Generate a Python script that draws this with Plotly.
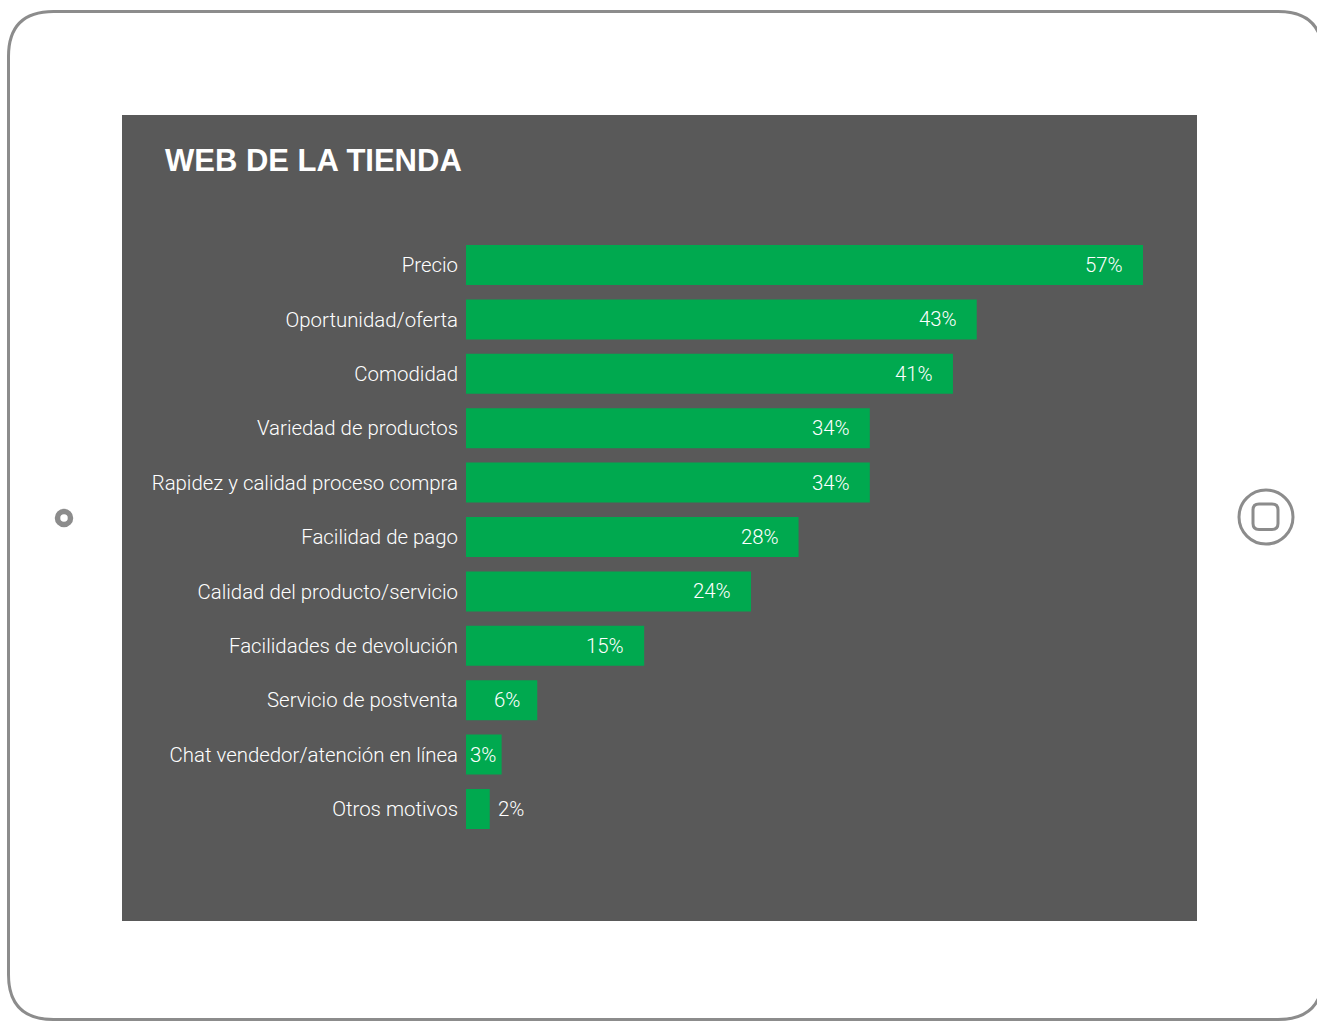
import plotly.graph_objects as go

# Survey results: reasons for buying on the store website (% of respondents)
categories = [
    "Precio",
    "Oportunidad/oferta",
    "Comodidad",
    "Variedad de productos",
    "Rapidez y calidad proceso compra",
    "Facilidad de pago",
    "Calidad del producto/servicio",
    "Facilidades de devolución",
    "Servicio de postventa",
    "Chat vendedor/atención en línea",
    "Otros motivos",
]
values = [57, 43, 41, 34, 34, 28, 24, 15, 6, 3, 2]
title_text = "WEB DE LA TIENDA"

W, H = 1317, 1021
FONT = "Liberation Sans, Arial, sans-serif"
LIGHT_FONT = "Roboto, Liberation Sans, sans-serif"
GREEN = "#00A94F"
PANEL = "#595959"
FRAME = "#8c8c8c"


def fx(x):
    return x / W


def fy(y):
    return 1 - y / H


def rounded_rect_path(x0, y0, x1, y1, r):
    # rounded rectangle in page pixels, converted to paper coordinates
    pts = [
        ("M", [(x0 + r, y0)]),
        ("L", [(x1 - r, y0)]),
        ("Q", [(x1, y0), (x1, y0 + r)]),
        ("L", [(x1, y1 - r)]),
        ("Q", [(x1, y1), (x1 - r, y1)]),
        ("L", [(x0 + r, y1)]),
        ("Q", [(x0, y1), (x0, y1 - r)]),
        ("L", [(x0, y0 + r)]),
        ("Q", [(x0, y0), (x0 + r, y0)]),
    ]
    out = []
    for cmd, ps in pts:
        out.append(cmd + " " + " ".join(f"{fx(a):.6f},{fy(b):.6f}" for a, b in ps))
    return " ".join(out) + " Z"


fig = go.Figure(
    go.Bar(
        x=values,
        y=categories,
        orientation="h",
        marker=dict(color=GREEN, line=dict(width=0)),
        width=0.735,
        hoverinfo="skip",
    )
)

# value labels at the end of each bar
PX_PER_UNIT = 677 / 57
annotations = []
for cat, v in zip(categories, values):
    bar_px = v * PX_PER_UNIT
    text = f"{v}%"
    text_px = len(text) * 12
    if bar_px >= 100:
        a = dict(xanchor="right", xshift=-18)
    elif bar_px >= text_px + 4:
        a = dict(xanchor="right", xshift=-max(3, (bar_px - text_px) / 3))
    else:
        a = dict(xanchor="left", xshift=6)
    ann = dict(
        x=v, y=cat, xref="x", yref="y", text=text, showarrow=False,
        yanchor="middle", font=dict(family=LIGHT_FONT, size=20.4, color="white", weight=300),
    )
    ann.update(a)
    annotations.append(ann)

annotations.append(
    dict(
        x=fx(163), y=fy(161), xref="paper", yref="paper", text=f"<b>{title_text}</b>",
        showarrow=False, xanchor="left", yanchor="middle",
        font=dict(family=FONT, size=31, color="white"),
    )
)

shapes = [
    # tablet body
    dict(type="path", xref="paper", yref="paper", layer="below",
         path=rounded_rect_path(8.5, 11.5, 1323, 1019.5, 45),
         line=dict(color=FRAME, width=3), fillcolor="white"),
    # dark chart panel
    dict(type="rect", xref="paper", yref="paper", layer="below",
         x0=fx(122), x1=fx(1197), y0=fy(921), y1=fy(115),
         line=dict(width=0), fillcolor=PANEL),
    # camera
    dict(type="circle", xref="paper", yref="paper",
         x0=fx(64 - 6.5), x1=fx(64 + 6.5), y0=fy(518 + 6.5), y1=fy(518 - 6.5),
         line=dict(color=FRAME, width=5.5), fillcolor="white"),
    # home button
    dict(type="circle", xref="paper", yref="paper",
         x0=fx(1266 - 27), x1=fx(1266 + 27), y0=fy(517 + 27), y1=fy(517 - 27),
         line=dict(color=FRAME, width=3)),
    dict(type="path", xref="paper", yref="paper",
         path=rounded_rect_path(1253, 504, 1278, 529.5, 6),
         line=dict(color=FRAME, width=3)),
]

x_end = 60
fig.update_layout(
    width=W, height=H, autosize=False,
    margin=dict(l=0, r=0, t=0, b=0, pad=0),
    paper_bgcolor="white", plot_bgcolor="rgba(0,0,0,0)",
    showlegend=False,
    xaxis=dict(
        range=[0, x_end], domain=[fx(466), fx(466 + x_end * PX_PER_UNIT)],
        visible=False, fixedrange=True,
    ),
    yaxis=dict(
        categoryorder="array", categoryarray=categories,
        range=[len(categories) - 0.5, -0.5],
        domain=[fy(265 + 54.4 * 10 + 27.2), fy(265 - 27.2)],
        showgrid=False, zeroline=False, showline=False, ticks="",
        ticklabelstandoff=7,
        tickfont=dict(family=LIGHT_FONT, size=20.4, color="white", weight=300),
        fixedrange=True,
    ),
    shapes=shapes,
    annotations=annotations,
)

fig.write_html("out.html", config={"displayModeBar": False})
